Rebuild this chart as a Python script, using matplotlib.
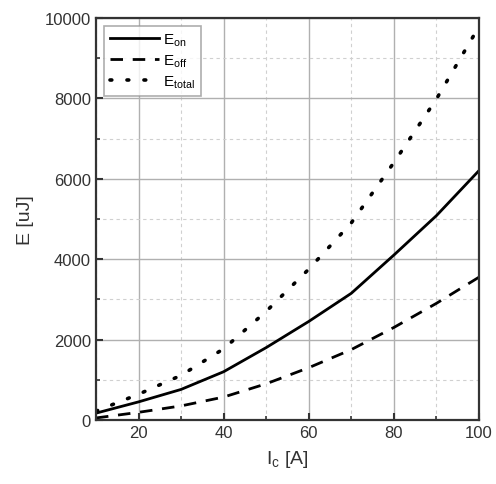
import numpy as np
import matplotlib.pyplot as plt
from matplotlib.ticker import MultipleLocator

#----------------------------------------------------------------
#   DATA
#----------------------------------------------------------------
ic = [10, 20, 30, 40, 50, 60, 70, 80, 90, 100]  # collector current [A]
e_on = [170, 450, 760, 1200, 1800, 2450, 3150, 4100, 5080, 6200]
e_off = [50, 190, 350, 570, 900, 1300, 1750, 2300, 2900, 3550]
e_total = [220, 640, 1110, 1770, 2700, 3750, 4900, 6400, 7980, 9780]

plt.rcParams.update({
    'font.family': 'Liberation Sans',
    'mathtext.fontset': 'custom',
    'mathtext.rm': 'Liberation Sans',
    'mathtext.it': 'Liberation Sans',
    'font.size': 12,
})

fig = plt.figure(figsize=(4.96, 4.85), dpi=100)
ax = fig.add_axes([0.1935, 0.132, 0.772, 0.829])

ax.plot(ic, e_on, color='black', lw=2, ls='-', label=r'E$_{\rm on}$')
ax.plot(ic, e_off, color='black', lw=2, ls=(0, (4.5, 3.5)), label=r'E$_{\rm off}$')
ax.plot(ic, e_total, color='black', lw=2.6, ls=(0, (0.5, 4.2)), dash_capstyle='round',
        label=r'E$_{\rm total}$')

ax.set_xlim(10, 100)
ax.set_ylim(0, 10000)
ax.xaxis.set_major_locator(MultipleLocator(20))
ax.xaxis.set_minor_locator(MultipleLocator(10))
ax.yaxis.set_major_locator(MultipleLocator(2000))
ax.yaxis.set_minor_locator(MultipleLocator(1000))

# grid: solid major, dashed minor
ax.grid(which='major', color='#b0b0b0', lw=1, ls='-')
ax.grid(which='minor', color='#d0d0d0', lw=0.8, ls=(0, (3, 3)))
ax.set_axisbelow(True)

ax.tick_params(which='both', direction='in', top=False, right=False, labelsize=12,
               colors='#333333')
ax.tick_params(which='major', length=5, width=1.5)
ax.tick_params(which='minor', length=3, width=1.2)
for s in ax.spines.values():
    s.set_linewidth(1.6)
    s.set_color('#333333')

ax.set_xlabel(r'I$_{\rm c}$ [A]', fontsize=14, color='#333333', labelpad=6)
ax.set_ylabel(r'E [uJ]', fontsize=14, color='#333333', labelpad=8)

leg = ax.legend(loc='upper left', fontsize=11, frameon=True, fancybox=False,
                edgecolor='#999999', handlelength=3.2, borderpad=0.4, labelspacing=0.3,
                handletextpad=0.3, borderaxespad=0.5)
leg.get_frame().set_linewidth(1.2)

plt.savefig('out.png', dpi=100)
